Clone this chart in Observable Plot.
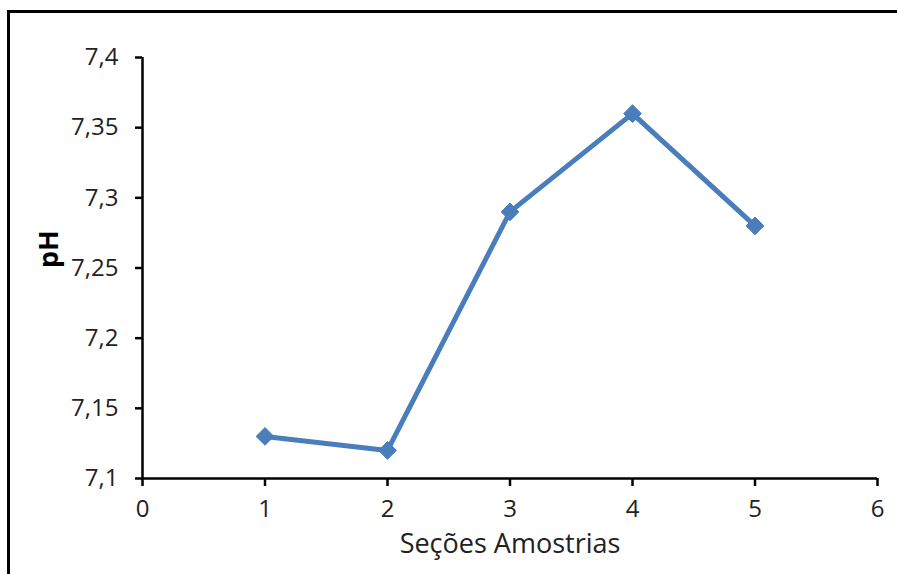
<!DOCTYPE html>
<html>
<head>
<meta charset="utf-8">
<script src="https://cdn.jsdelivr.net/npm/d3@7"></script>
<script src="https://cdn.jsdelivr.net/npm/@observablehq/plot@0.6"></script>
<style>
  html, body { margin: 0; padding: 0; background: #fff; overflow: hidden; }
  #wrap { position: relative; width: 897px; height: 574px; }
  #border { position: absolute; left: 7px; top: 10px; width: 900px; height: 600px;
            border-left: 3px solid #000; border-top: 3px solid #000; box-sizing: border-box; pointer-events: none; }
  svg { display: block; }
</style>
</head>
<body>
<div id="wrap"><div id="chart"></div><div id="border"></div></div>
<script>
// Sample sections and measured pH
const secoes = [1, 2, 3, 4, 5];
const ph = [7.13, 7.12, 7.29, 7.36, 7.28];

// Axis ticks and titles
const xTicks = [0, 1, 2, 3, 4, 5, 6];
const yTicks = [7.1, 7.15, 7.2, 7.25, 7.3, 7.35, 7.4];
const xTitle = ["Seções Amostrias"];
const yTitle = ["pH"];

const data = secoes.map((s, i) => ({secao: s, ph: ph[i]}));
const fmt = d => String(d).replace(".", ",");
const font = "'Open Sans', sans-serif";
const blue = "#4a7ebb";

const chart = Plot.plot({
  width: 897,
  height: 574,
  marginLeft: 142,
  marginRight: 20,
  marginTop: 57,
  marginBottom: 96,
  style: {fontFamily: font, fontSize: "24px", color: "#000", background: "transparent"},
  x: {domain: [0, 6]},
  y: {domain: [7.1, 7.4]},
  marks: [
    Plot.axisX({ticks: xTicks, tickFormat: fmt, tickSize: 8, tickPadding: 13, strokeWidth: 2.5, label: null, fontSize: 24, fill: "#222"}),
    Plot.axisY({ticks: yTicks, tickFormat: fmt, tickSize: 7, tickPadding: 17, strokeWidth: 2.5, label: null, fontSize: 24, fill: "#222"}),
    Plot.ruleY([7.1], {stroke: "#000", strokeWidth: 2.5}),
    Plot.ruleX([0], {stroke: "#000", strokeWidth: 2.5}),
    Plot.line(data, {x: "secao", y: "ph", stroke: blue, strokeWidth: 5}),
    Plot.dot(data, {x: "secao", y: "ph", symbol: "diamond2", r: 8, fill: blue, stroke: blue, strokeWidth: 1}),
    Plot.text(yTitle, {frameAnchor: "left", dx: -93, rotate: -90, fontSize: 27, fontWeight: "bold", fill: "#000", text: d => d}),
    Plot.text(xTitle, {frameAnchor: "bottom", dy: 74, fontSize: 27, fill: "#222", text: d => d})
  ]
});
document.getElementById("chart").appendChild(chart);
</script>
</body>
</html>
